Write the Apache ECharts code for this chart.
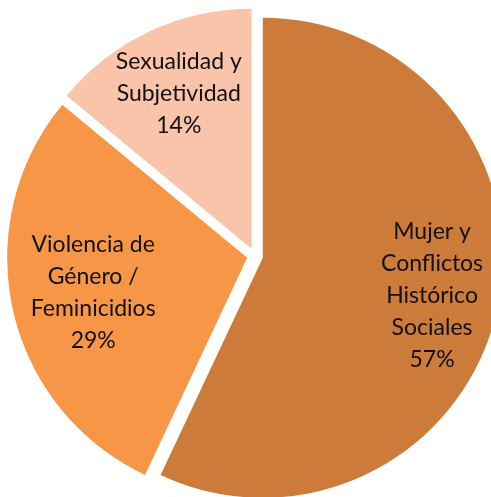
<!DOCTYPE html>
<html>
<head>
<meta charset="utf-8">
<script src="https://cdn.jsdelivr.net/npm/echarts@6/dist/echarts.min.js"></script>
<style>
  html, body { margin: 0; padding: 0; background: #fff; }
  #chart { width: 491px; height: 497px; }
</style>
</head>
<body>
<div id="chart"></div>
<script>
// categorias y porcentajes
var categories = ["Mujer y\nConflictos\nHistórico\nSociales", "Violencia de\nGénero /\nFeminicidios", "Sexualidad y\nSubjetividad"];
var values = [57, 29, 14];
var colors = ["#CC7B3A", "#F79646", "#F9C4A9"];

var cx = 255, cy = 256, radius = 240, offset = 8;
// distancia de la etiqueta al centro (fraccion del radio)
var labelDist = [0.71, 0.645, 0.70];

var total = values.reduce(function (a, b) { return a + b; }, 0);

var myChart = echarts.init(document.getElementById("chart"));
var option = {
  animation: false,
  series: [
    {
      type: "pie",
      center: [cx, cy],
      radius: radius,
      startAngle: 90,
      clockwise: true,
      selectedMode: "multiple",
      selectedOffset: offset,
      silent: true,
      label: {
        show: true,
        position: "inside",
        formatter: "{b}\n{d}%",
        fontFamily: "Lato",
        fontSize: 23,
        lineHeight: 32,
        color: "#111",
        align: "center"
      },
      labelLine: { show: false },
      emphasis: { disabled: true },
      select: { itemStyle: { borderWidth: 0 } },
      // mover la etiqueta desde r/2 hasta la distancia deseada
      labelLayout: function (p) {
        var i = p.dataIndex;
        var before = 0;
        for (var j = 0; j < i; j++) before += values[j];
        var t = (before + values[i] / 2) / total * Math.PI * 2;
        var d = (labelDist[i] - 0.5) * radius;
        return {
          dx: Math.sin(t) * d,
          dy: -Math.cos(t) * d
        };
      },
      data: values.map(function (v, i) {
        return { value: v, name: categories[i], selected: true, itemStyle: { color: colors[i] } };
      })
    }
  ]
};
myChart.setOption(option);
</script>
</body>
</html>
